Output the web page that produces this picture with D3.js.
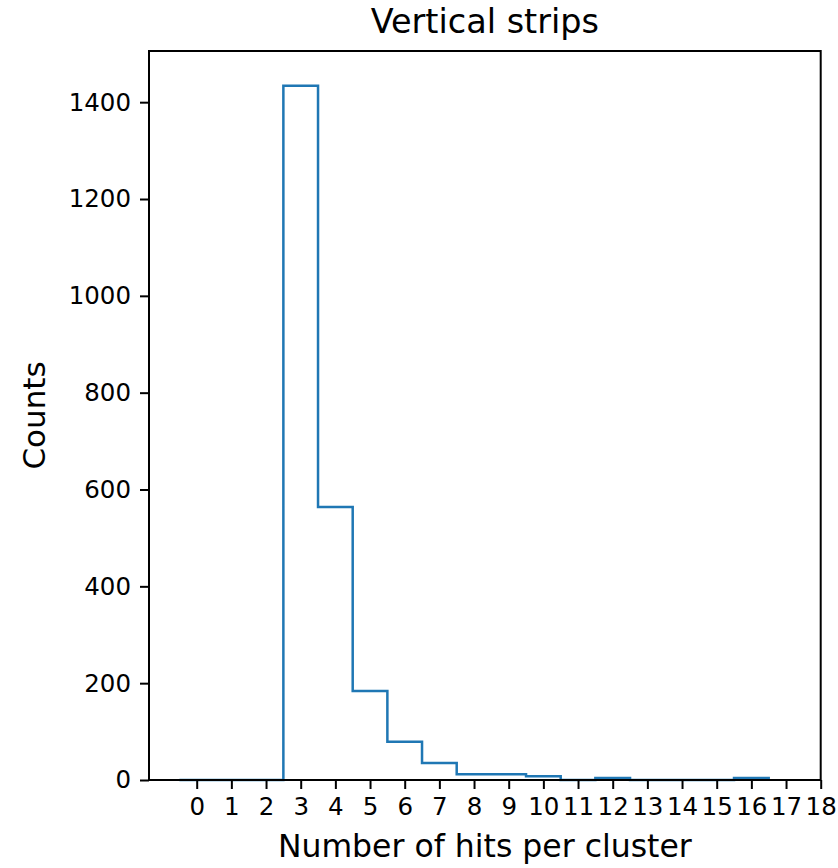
<!DOCTYPE html>
<html>
<head>
<meta charset="utf-8">
<script src="https://cdn.jsdelivr.net/npm/d3@7"></script>
<style>
  html, body { margin: 0; padding: 0; background: #fff; }
  svg { display: block; }
  text { font-family: "DejaVu Sans", sans-serif; fill: #000; }
</style>
</head>
<body>
<svg id="chart" width="838" height="868"></svg>
<script>
// ---- data ----
const binCenters = [0, 1, 2, 3, 4, 5, 6, 7, 8, 9, 10, 11, 12, 13, 14, 15, 16];
const counts     = [0, 0, 0, 1434, 564, 184, 79, 35, 12, 12, 8, 0, 4, 0, 0, 0, 4];
const xTicks = d3.range(0, 19);
const yTicks = [0, 200, 400, 600, 800, 1000, 1200, 1400];
const titleText = "Vertical strips";
const xLabelText = "Number of hits per cluster";
const yLabelText = "Counts";

// ---- layout ----
const plotL = 149, plotR = 820.7, plotT = 51, plotB = 780;
const svg = d3.select("#chart");

const x = d3.scaleLinear().domain([-1.376, 18]).range([plotL, plotR]);
const yMax = d3.max(counts) * 1.05;
const y = d3.scaleLinear().domain([0, yMax]).range([plotB, plotT]);

// ---- histogram step outline ----
const pts = [];
pts.push([x(binCenters[0] - 0.5), y(0)]);
binCenters.forEach((c, i) => {
  pts.push([x(c - 0.5), y(counts[i])]);
  pts.push([x(c + 0.5), y(counts[i])]);
});
pts.push([x(binCenters[binCenters.length - 1] + 0.5), y(0)]);

svg.append("path")
  .attr("d", d3.line()(pts))
  .attr("fill", "none")
  .attr("stroke", "#1f77b4")
  .attr("stroke-width", 2.5)
  .attr("stroke-linejoin", "miter");

// ---- axes ----
const xAxis = svg.append("g").attr("transform", `translate(0,${plotB})`)
  .call(d3.axisBottom(x).tickValues(xTicks).tickFormat(d3.format("d")).tickSize(9).tickPadding(9).tickSizeOuter(0));
const yAxis = svg.append("g").attr("transform", `translate(${plotL},0)`)
  .call(d3.axisLeft(y).tickValues(yTicks).tickFormat(d3.format("d")).tickSize(9).tickPadding(9).tickSizeOuter(0));

[xAxis, yAxis].forEach(g => {
  g.select(".domain").remove();
  g.selectAll(".tick line").attr("stroke", "#000").attr("stroke-width", 2);
  g.selectAll(".tick text").attr("font-size", 24.5).attr("font-family", "DejaVu Sans").attr("fill", "#000");
});

// ---- frame ----
svg.append("rect")
  .attr("x", plotL).attr("y", plotT)
  .attr("width", plotR - plotL).attr("height", plotB - plotT)
  .attr("fill", "none").attr("stroke", "#000").attr("stroke-width", 2);

// ---- titles ----
svg.append("text").attr("x", (plotL + plotR) / 2).attr("y", 33)
  .attr("text-anchor", "middle").attr("font-size", 33.5).text(titleText);
svg.append("text").attr("x", (plotL + plotR) / 2).attr("y", 857)
  .attr("text-anchor", "middle").attr("font-size", 31.5).text(xLabelText);
svg.append("text")
  .attr("transform", `translate(45,${(plotT + plotB) / 2}) rotate(-90)`)
  .attr("text-anchor", "middle").attr("font-size", 31).text(yLabelText);
</script>
</body>
</html>
